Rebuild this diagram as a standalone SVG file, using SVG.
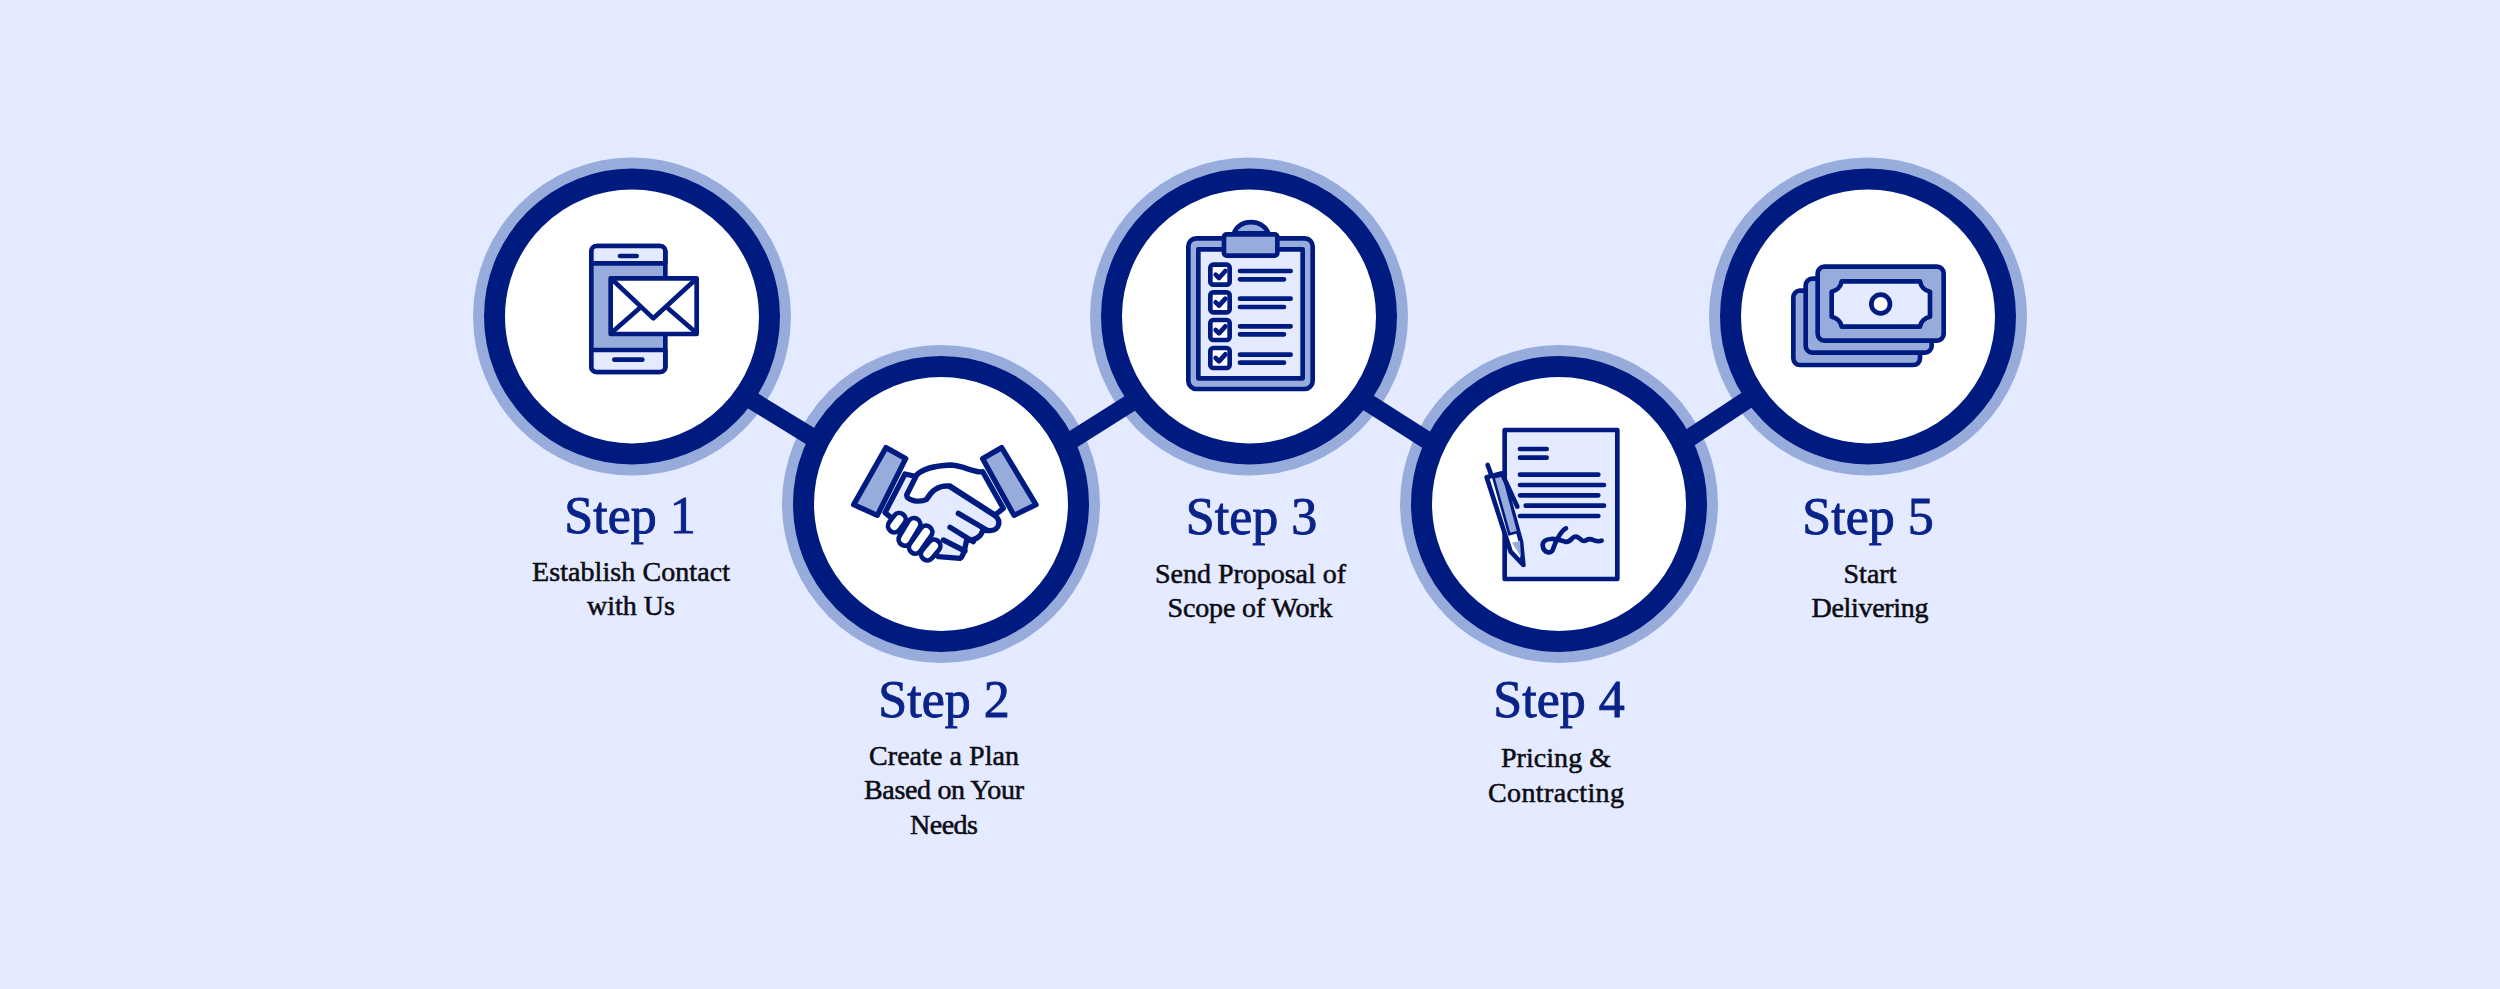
<svg xmlns="http://www.w3.org/2000/svg" width="2500" height="989" viewBox="0 0 2500 989">
<style>
.halo{fill:#98acdc}
.ring{fill:#fff;stroke:#001b80;stroke-width:21}
.conn{stroke:#001b80;stroke-width:18;fill:none}
.ic{stroke:#001b80;stroke-width:14;stroke-linejoin:round;stroke-linecap:round}
.fm{fill:#98acdc}.fl{fill:#e4eaff}.fw{fill:#fff}.fn{fill:none}
.step{font-family:"Liberation Serif",serif;font-size:52px;fill:#0a2388;stroke:#0a2388;stroke-width:.9;text-anchor:middle}
.sub{font-family:"Liberation Serif",serif;font-size:28px;fill:#0c0c14;stroke:#0c0c14;stroke-width:.55;text-anchor:middle}
</style>
<rect width="2500" height="989" fill="#e4eaff"/>
<g id="step1">
<circle class="halo" cx="632" cy="316.5" r="159"/><circle class="ring" cx="632" cy="316.5" r="137.5"/>
<g class="ic" transform="translate(460 150) scale(.33333)">
<rect class="fm" x="394" y="288" width="222" height="378" rx="16"/>
<path class="fl" d="M394 340V304a16 16 0 0 1 16-16H600a16 16 0 0 1 16 16V340Z"/>
<path class="fl" d="M394 600V650a16 16 0 0 0 16 16H600a16 16 0 0 0 16-16V600Z"/>
<path class="fn" d="M480 318H530M463 629H547"/>
<rect class="fw" x="452" y="385" width="258" height="167"/>
<path class="fn" d="M458 390 580 505 705 390M458 545 540 473M705 545 622 473"/>
</g>
<text class="step" x="630" y="533">Step 1</text>
<text class="sub" x="631" y="581" textLength="198">Establish Contact</text>
<text class="sub" x="631" y="615" textLength="88">with Us</text>
</g>
<g id="step2">
<circle class="halo" cx="941" cy="504" r="159"/><circle class="ring" cx="941" cy="504" r="137.5"/>
<g class="ic" style="stroke-width:16" transform="translate(790 340) scale(.33333)">
<path class="fl" d="M345 402 380 410 352 462C355 480 400 490 415 470 430 445 460 430 480 440L612 525C635 540 630 570 600 572 585 572 582 570 578 570 575 590 550 605 530 600 525 625 520 650 510 655L445 650 285 518Z"/>
<path class="fw" d="M380 405C400 385 430 378 480 375 520 375 550 400 578 395L640 505 615 525 480 438C450 435 425 450 410 478 385 490 350 480 350 465Z"/>
<path class="fn" d="M505 520 590 570M480 562 550 605M460 600 525 633"/>
<path class="fm" d="M288 323 347 356 262 526 191 494Z"/>
<path class="fm" d="M635 323 578 356 672 526 738 494Z"/>
<path fill="none" stroke-width="52" d="M313 558 328 538M345 598 372 553M376 622 408 576M412 642 432 618"/>
<path fill="none" stroke="#fff" stroke-width="24" d="M313 558 328 538M345 598 372 553M376 622 408 576M412 642 432 618"/>
</g>
<text class="step" x="944" y="717">Step 2</text>
<text class="sub" x="944" y="765" textLength="150">Create a Plan</text>
<text class="sub" x="944" y="799" textLength="160">Based on Your</text>
<text class="sub" x="944" y="834" textLength="68">Needs</text>
</g>
<g id="step3">
<circle class="halo" cx="1249" cy="316.5" r="159"/><circle class="ring" cx="1249" cy="316.5" r="137.5"/>
<g class="ic" transform="translate(1130 190) scale(.33333)">
<rect class="fm" x="175" y="145" width="373" height="452" rx="24"/>
<rect class="fl" x="205" y="178" width="313" height="387"/>
<path class="fm" d="M312 130C325 85 400 85 415 130Z"/>
<rect class="fm" x="282" y="133" width="160" height="64" rx="8"/>
<g class="fw">
<rect x="241" y="224" width="58" height="60" rx="9"/>
<rect x="241" y="307" width="58" height="60" rx="9"/>
<rect x="241" y="390" width="58" height="60" rx="9"/>
<rect x="241" y="474" width="58" height="60" rx="9"/>
</g>
<path class="fn" d="M257 254 267 264 286 243M257 337 267 347 286 326M257 420 267 430 286 409M257 504 267 514 286 493"/>
<path class="fn" d="M330 243H482M330 268H462M330 326H482M330 351H462M330 409H482M330 433H462M330 494H482M330 518H462"/>
</g>
<text class="step" x="1251.5" y="534">Step 3</text>
<text class="sub" x="1250.5" y="582.5" textLength="191">Send Proposal of</text>
<text class="sub" x="1250" y="616.5" textLength="165">Scope of Work</text>
</g>
<g id="step4">
<circle class="halo" cx="1559" cy="504" r="159"/><circle class="ring" cx="1559" cy="504" r="137.5"/>
<g class="ic" transform="translate(1440 400) scale(.33333)">
<rect class="fl" x="194" y="90" width="338" height="447"/>
<path class="fn" d="M240 147H320M240 173H320M240 224H475M240 255H492M240 286H475M257 317H492M240 348H475"/>
<path class="fn" d="M378 385C360 395 345 430 340 445 335 465 310 460 308 435 310 410 350 415 375 425 395 430 395 405 410 410 425 415 425 430 440 420 455 410 465 430 485 422"/>
<path class="fw" d="M140 232 186 220 243 425 250 495 212 455Z"/>
<path class="fm" d="M160 232 190 225 235 395 208 403Z" stroke-width="8"/>
<path class="fn" d="M143 195 154 225M188 225 232 320"/>
<path class="fm" d="M216 428 240 422 243 470Z" stroke="none"/>
</g>
<text class="step" x="1559" y="717">Step 4</text>
<text class="sub" x="1556" y="767" textLength="110">Pricing &amp;</text>
<text class="sub" x="1556" y="801.5" textLength="136">Contracting</text>
</g>
<g id="step5">
<circle class="halo" cx="1868" cy="316.5" r="159"/><circle class="ring" cx="1868" cy="316.5" r="137.5"/>
<g class="ic" transform="translate(1760 240) scale(.33333)">
<rect class="fm" x="100" y="152" width="380" height="223" rx="20"/>
<rect class="fm" x="137" y="116" width="378" height="222" rx="20"/>
<rect class="fm" x="173" y="80" width="378" height="222" rx="20"/>
<path class="fl" d="M245 124H480C482 140 495 152 510 155V230C495 233 482 245 480 260H245C243 245 230 233 215 230V155C230 152 243 140 245 124Z"/>
<circle class="fw" cx="362" cy="192" r="28"/>
</g>
<text class="step" x="1868" y="534">Step 5</text>
<text class="sub" x="1870" y="582.5" textLength="53">Start</text>
<text class="sub" x="1870" y="616.5" textLength="117">Delivering</text>
</g>
<g id="connectors">
<path class="conn" d="M745 396 815 439"/>
<path class="conn" d="M1064 445 1140 397"/>
<path class="conn" d="M1360 397.5 1436 446"/>
<path class="conn" d="M1681 443.5 1756 394"/>
</g>
</svg>
